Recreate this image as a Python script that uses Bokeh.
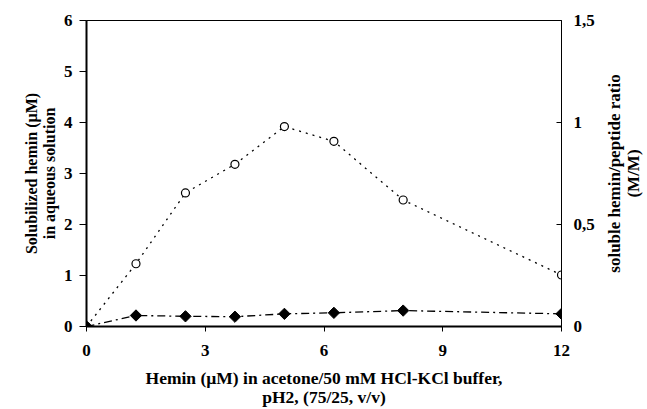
import math
from bokeh.plotting import figure
from bokeh.layouts import row
from bokeh.models import LinearAxis, Range1d, FixedTicker
from bokeh.embed import file_html
from bokeh.resources import INLINE

hemin_added = [0, 1.25, 2.5, 3.75, 5, 6.25, 8, 12]
solubilized = [0, 1.23, 2.62, 3.18, 3.92, 3.63, 2.48, 1.01]
ratio = [0, 0.054, 0.050, 0.048, 0.062, 0.067, 0.078, 0.062]
x_ticks = [0, 3, 6, 9, 12]
left_ticks = [0, 1, 2, 3, 4, 5, 6]
right_ticks = [0, 0.5, 1, 1.5]
right_labels = {0: "0", 0.5: "0,5", 1: "1", 1.5: "1,5"}

FONT = "Liberation Serif"

p = figure(width=600, height=409, output_backend="svg", toolbar_location=None,
           x_range=Range1d(0, 12), y_range=Range1d(0, 6),
           min_border_left=86, min_border_right=39, min_border_top=20, min_border_bottom=83)
p.extra_y_ranges = {"ratio": Range1d(0, 1.5)}
p.xgrid.visible = False
p.ygrid.visible = False
p.outline_line_color = "black"
p.outline_line_width = 1
p.background_fill_color = "white"
p.border_fill_color = "white"

p.line(hemin_added, solubilized, line_color="black", line_width=1.3, line_dash="2 5")
p.scatter(hemin_added, solubilized, marker="circle", size=8, fill_color="white",
          line_color="black", line_width=1.2)
p.line(hemin_added, ratio, y_range_name="ratio", line_color="black", line_width=1.3,
       line_dash="8 4 2 4")
p.scatter(hemin_added, ratio, y_range_name="ratio", marker="square", angle=math.pi / 4,
          size=8, fill_color="black", line_color="black")

def style(ax):
    ax.axis_line_color = "black"
    ax.major_tick_line_color = "black"
    ax.minor_tick_line_color = None
    ax.major_tick_in = 0
    ax.major_tick_out = 6
    ax.major_label_text_font = FONT
    ax.major_label_text_font_style = "bold"
    ax.major_label_text_font_size = "17px"
    ax.major_label_text_color = "black"
    ax.axis_label_text_font = FONT
    ax.axis_label_text_font_style = "bold"
    ax.axis_label_text_font_size = "16px"
    ax.axis_label_text_color = "black"

xa = p.xaxis[0]
style(xa)
xa.ticker = FixedTicker(ticks=x_ticks)
xa.axis_line_width = 2
xa.major_tick_out = 5
xa.major_label_standoff = 13
xa.axis_label = "Hemin (\u00b5M) in acetone/50 mM HCl-KCl buffer,\npH2, (75/25, v/v)"
xa.axis_label_text_font_size = "17.5px"
xa.axis_label_text_line_height = 0.95
xa.axis_label_standoff = 9

ya = p.yaxis[0]
style(ya)
ya.ticker = FixedTicker(ticks=left_ticks)
ya.axis_line_width = 2
ya.major_tick_out = 7
ya.major_label_standoff = 7
ya.axis_label = "Solubilized hemin (\u00b5M)\nin aqueous solution"
ya.axis_label_text_line_height = 1.05
ya.axis_label_standoff = 3

ra = LinearAxis(y_range_name="ratio")
style(ra)
ra.ticker = FixedTicker(ticks=right_ticks)
ra.major_label_overrides = right_labels
ra.major_tick_in = 5
ra.major_tick_out = 0
ra.major_label_standoff = 12
p.add_layout(ra, "right")

# narrow companion figure carrying the right-hand axis title (reads bottom-to-top)
p2 = figure(width=47, height=409, output_backend="svg", toolbar_location=None,
            x_range=Range1d(0, 1), y_range=Range1d(0, 1),
            min_border_left=44, min_border_right=0, min_border_top=20, min_border_bottom=83)
p2.xaxis.visible = False
p2.xgrid.visible = False
p2.ygrid.visible = False
p2.outline_line_color = None
p2.background_fill_color = "white"
p2.border_fill_color = "white"
ta = p2.yaxis[0]
style(ta)
ta.ticker = FixedTicker(ticks=[])
ta.axis_line_color = None
ta.major_tick_line_color = None
ta.major_tick_out = 0
ta.major_label_standoff = 0
ta.axis_label = "soluble hemin/peptide ratio\n(M/M)"
ta.axis_label_text_font_size = "17px"
ta.axis_label_text_line_height = 1.0
ta.axis_label_standoff = 2

layout = row(p, p2, spacing=0)

open("out.html", "w").write(file_html(layout, INLINE))
